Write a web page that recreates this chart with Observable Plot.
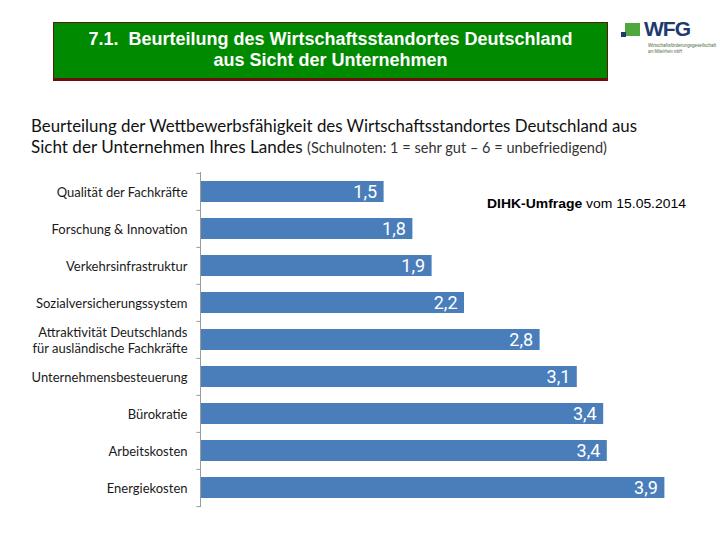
<!DOCTYPE html>
<html>
<head>
<meta charset="utf-8">
<script src="https://cdn.jsdelivr.net/npm/d3@7"></script>
<script src="https://cdn.jsdelivr.net/npm/@observablehq/plot@0.6"></script>
<style>
  html, body { margin: 0; padding: 0; background: #fff; }
  #page { position: relative; width: 720px; height: 540px; overflow: hidden; background: #fff; }
  .abs { position: absolute; white-space: nowrap; transform-origin: 0 0; }
  #header { left: 53px; top: 22px; width: 553px; height: 55px; background: #008a00;
            border: 1px solid #5a1a10; border-bottom: 3px solid #6b0f0f; }
  .hline { position: absolute; left: 0; width: 100%; text-align: center; color: #fff;
           font-family: "Liberation Sans Narrow", "Liberation Sans", Arial, sans-serif; font-weight: bold; font-size: 18px; }
  .title { font-family: Lato, "Open Sans", sans-serif; color: #111; }
  #note { left: 487px; top: 196px; font-family: "Liberation Sans", Arial, sans-serif; font-size: 13px; color: #000; }
  #chart { position: absolute; left: 0; top: 160px; }
  .tiny { font-family: "Liberation Sans", Arial, sans-serif; font-size: 5px; color: #4a6a3a; }
</style>
</head>
<body>
<div id="page">
  <div id="header" class="abs">
    <div class="hline" style="top:6px">7.1.&nbsp; Beurteilung des Wirtschaftsstandortes Deutschland</div>
    <div class="hline" style="top:27px">aus Sicht der Unternehmen</div>
  </div>
  <!-- logo -->
  <div class="abs" style="left:625px;top:23px;width:15px;height:13px;background:#4fa83d"></div>
  <div class="abs" style="left:621px;top:32px;width:5px;height:5px;background:#1e3a6e"></div>
  <div class="abs" style="left:644px;top:17px;font-family:'Liberation Sans',Arial,sans-serif;font-weight:bold;font-size:21px;color:#1e3a6e;letter-spacing:-1px">WFG</div>
  <div class="abs tiny" data-w="68" style="left:648px;top:42px">Wirtschaftsförderungsgesellschaft</div>
  <div class="abs tiny" data-w="34" style="left:648px;top:48px">am Mittelrhein mbH</div>

  <div class="abs title" data-w="606" style="left:31px;top:115px;font-size:17px">Beurteilung der Wettbewerbsfähigkeit des Wirtschaftsstandortes Deutschland aus</div>
  <div class="abs title" data-w="576" style="left:31px;top:136px;font-size:17px">Sicht der Unternehmen Ihres Landes <span style="font-size:14.5px;color:#333">(Schulnoten: 1 = sehr gut – 6 = unbefriedigend)</span></div>

  <div id="note" class="abs" data-w="199"><b>DIHK-Umfrage</b> vom 15.05.2014</div>
  <div id="chart"></div>
</div>
<script>
const categories = [
  "Qualität der Fachkräfte",
  "Forschung & Innovation",
  "Verkehrsinfrastruktur",
  "Sozialversicherungssystem",
  "Attraktivität Deutschlands\nfür ausländische Fachkräfte",
  "Unternehmensbesteuerung",
  "Bürokratie",
  "Arbeitskosten",
  "Energiekosten"
];
// school grades (bar lengths; labels shown rounded)
const grades = [1.53, 1.77, 1.93, 2.20, 2.83, 3.14, 3.36, 3.39, 3.87];
const xDomain = [0, 4];

const data = categories.map((c, i) => ({category: c, grade: grades[i]}));
const fmt = v => v.toFixed(1).replace(".", ",");

const height = 360, marginTop = 12, marginBottom = 13;
const step = (height - marginTop - marginBottom) / categories.length;

const chart = Plot.plot({
  width: 720,
  height,
  marginLeft: 200,
  marginRight: 40,
  marginTop,
  marginBottom,
  style: {fontFamily: "Lato, 'Open Sans', sans-serif", background: "transparent"},
  x: {domain: xDomain, axis: null},
  y: {domain: categories, paddingInner: 0.42, paddingOuter: 0.21, label: null},
  marks: [
    Plot.barX(data, {x: "grade", y: "category", fill: "#4a7ebb"}),
    Plot.text(data, {x: "grade", y: "category", text: d => fmt(d.grade), textAnchor: "end", dx: -7,
      fill: "white", fontSize: 18, fontFamily: "Roboto, 'Open Sans', sans-serif"}),
    Plot.ruleX([0], {stroke: "#9a9a9a", strokeWidth: 1}),
    // category boundary ticks
    Plot.ruleY(categories, {y: d => d, x1: -0.03, x2: 0, dy: -step / 2, stroke: "#9a9a9a"}),
    Plot.ruleY(categories.slice(-1), {y: d => d, x1: -0.03, x2: 0, dy: step / 2, stroke: "#9a9a9a"}),
    Plot.axisY({tickSize: 0, tickPadding: 13, fontSize: 13, fill: "#1a1a1a", label: null, lineHeight: 1.25})
  ]
});
document.getElementById("chart").appendChild(chart);

// fit text lines to the reference's widths
document.querySelectorAll("[data-w]").forEach(el => {
  const w = el.getBoundingClientRect().width;
  el.style.transform = `scaleX(${(+el.dataset.w / w).toFixed(4)})`;
});
</script>
</body>
</html>
